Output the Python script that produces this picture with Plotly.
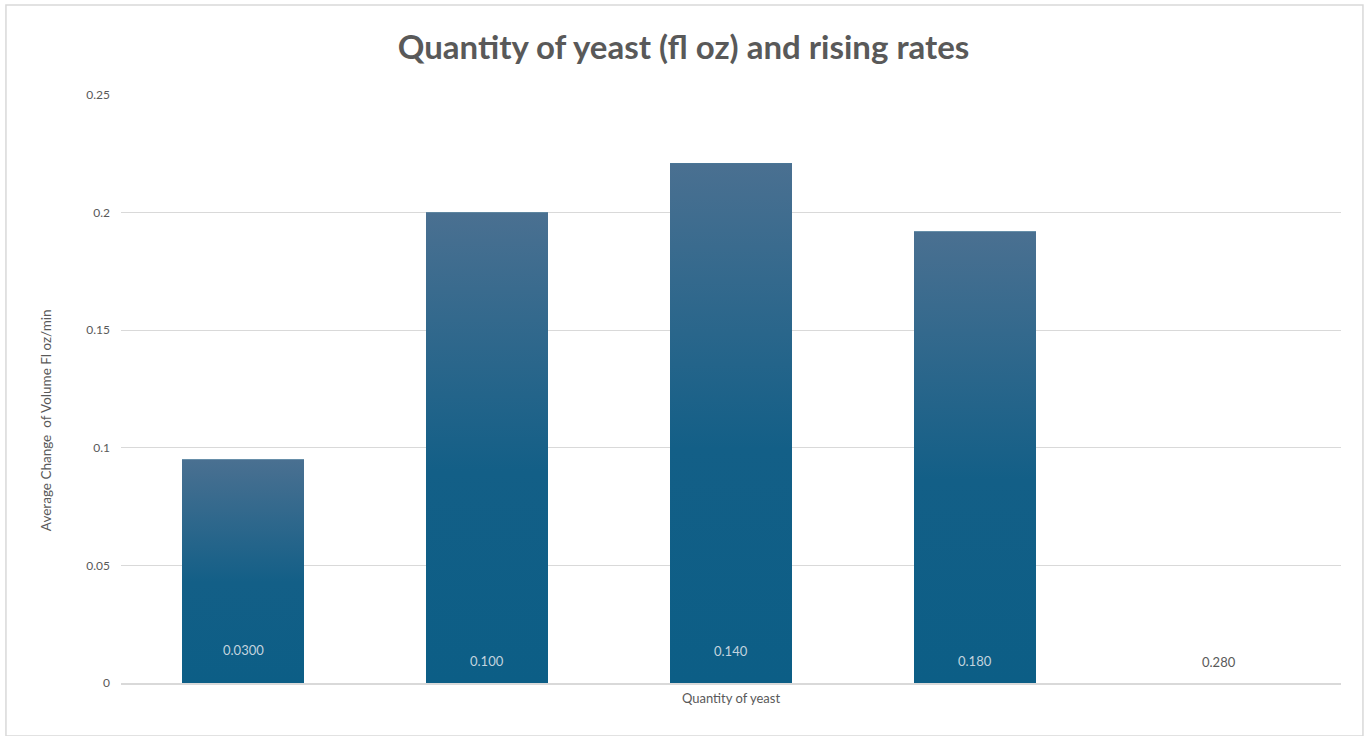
import plotly.graph_objects as go

# Yeast quantities (fl oz) and the average rise rate measured for each
yeast_qty = ["0.0300", "0.100", "0.140", "0.180", "0.280"]
avg_change = [0.095, 0.200, 0.221, 0.192, 0.0]

y_ticks = [0, 0.05, 0.1, 0.15, 0.2, 0.25]
y_tick_text = ["0", "0.05", "0.1", "0.15", "0.2", "0.25"]

BAR_W = 0.5
TOP_C = "#4a7091"
BOTTOM_C = "#0c5e86"
GRID_C = "#d9d9d9"
TEXT_C = "#595959"
FONT = "Lato, 'Open Sans', sans-serif"

positions = list(range(len(yeast_qty)))

fig = go.Figure()

fig.add_trace(go.Bar(
    x=positions, y=avg_change, width=BAR_W,
    marker=dict(color=BOTTOM_C, line=dict(width=0)),
    hovertext=yeast_qty, hoverinfo="text+y", showlegend=False,
))

# vertical shading on each bar, from dark at the base to slate at the top
for pos, val in zip(positions, avg_change):
    if val <= 0:
        continue
    x0, x1 = pos - BAR_W / 2, pos + BAR_W / 2
    fig.add_trace(go.Scatter(
        x=[x0, x1, x1, x0, x0], y=[0, 0, val, val, 0],
        mode="lines", line=dict(width=0), fill="toself",
        fillgradient=dict(type="vertical",
                          colorscale=[[0, BOTTOM_C], [0.45, "#135f87"], [1, TOP_C]]),
        hoverinfo="skip", showlegend=False,
    ))

# quantity labels sitting at the foot of each bar
label_lift = [33, 22, 32, 22, 21]
for pos, name, val, lift in zip(positions, yeast_qty, avg_change, label_lift):
    fig.add_annotation(
        x=pos, y=0, yshift=lift, text=name, showarrow=False,
        font=dict(family=FONT, size=13, color="#c3d4df" if val > 0 else TEXT_C),
    )

# y-axis caption
fig.add_annotation(
    xref="paper", yref="paper", x=-0.0615, y=0.447, textangle=-90,
    text="Average Change  of Volume Fl oz/min", showarrow=False,
    xanchor="center", yanchor="middle",
    font=dict(family=FONT, size=13.5, color=TEXT_C),
)

# thin frame around the whole chart
fig.add_shape(type="rect", xref="paper", yref="paper",
              x0=-0.0943, x1=1.018, y0=-0.09, y1=1.153,
              line=dict(color=GRID_C, width=1.5), fillcolor="rgba(0,0,0,0)", layer="below")

fig.update_layout(
    width=1367, height=736,
    margin=dict(l=121, r=26, t=95, b=53),
    paper_bgcolor="white", plot_bgcolor="white",
    title=dict(text="<b>Quantity of yeast (fl oz) and rising rates</b>",
               x=0.5, xanchor="center", y=0.936, yanchor="middle",
               font=dict(family=FONT, size=33, color=TEXT_C)),
    font=dict(family=FONT, color=TEXT_C),
    xaxis=dict(range=[-0.5, len(yeast_qty) - 0.5], showticklabels=False,
               showgrid=False, zeroline=False, showline=True,
               linecolor=GRID_C, linewidth=1.5, ticks="",
               title=dict(text="Quantity of yeast", standoff=10,
                          font=dict(family=FONT, size=13, color=TEXT_C))),
    yaxis=dict(range=[0, 0.25], tickvals=y_ticks, ticktext=y_tick_text,
               showgrid=True, gridcolor=GRID_C, gridwidth=1,
               zeroline=False, showline=False, ticks="",
               ticklabelstandoff=10,
               tickfont=dict(family=FONT, size=12, color=TEXT_C)),
    bargap=0.5,
)

fig.write_html("out.html")
